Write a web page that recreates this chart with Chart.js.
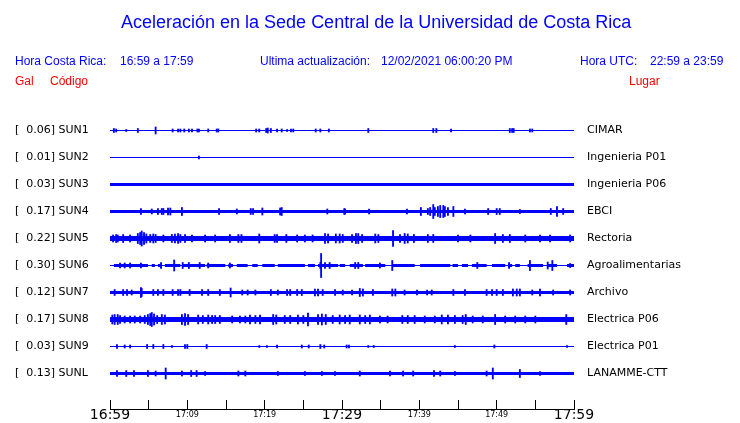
<!DOCTYPE html>
<html>
<head>
<meta charset="utf-8">
<script src="https://cdn.jsdelivr.net/npm/chart.js@4.4.1/dist/chart.umd.min.js"></script>
<style>
    body { margin: 0; background: #fff; }
    #wrap { position: relative; width: 740px; height: 423px; overflow: hidden; }
    #chart { position: absolute; left: 0; top: 0; }
    .txt { position: absolute; font-family: "Liberation Sans", Arial, sans-serif; font-size: 12px; line-height: 1; color: #0000ff; white-space: pre; }
    .red { color: #ff0000; }
</style>
</head>
<body>
<div id="wrap">
    <canvas id="chart" width="740" height="423"></canvas>
    <div class="txt" style="left:121px; top:13px; font-size:18px;">Aceleración en la Sede Central de la Universidad de Costa Rica</div>
    <div class="txt" style="left:15px; top:55px;">Hora Costa Rica:</div>
    <div class="txt" style="left:120px; top:55px;">16:59 a 17:59</div>
    <div class="txt" style="left:260px; top:55px;">Ultima actualización:</div>
    <div class="txt" style="left:381px; top:55px;">12/02/2021 06:00:20 PM</div>
    <div class="txt" style="left:580px; top:55px;">Hora UTC:</div>
    <div class="txt" style="left:650px; top:55px;">22:59 a 23:59</div>
    <div class="txt red" style="left:15px; top:75px;">Gal</div>
    <div class="txt red" style="left:50px; top:75px;">Código</div>
    <div class="txt red" style="left:629px; top:75px;">Lugar</div>
</div>
<script>
// Stations, top to bottom
const codes = ['SUN1', 'SUN2', 'SUN3', 'SUN4', 'SUN5', 'SUN6', 'SUN7', 'SUN8', 'SUN9', 'SUNL'];
const peakGal = [0.06, 0.01, 0.03, 0.17, 0.22, 0.30, 0.12, 0.17, 0.03, 0.13];
const places = ['CIMAR', 'Ingenieria P01', 'Ingenieria P06', 'EBCI', 'Rectoria', 'Agroalimentarias',
                'Archivo', 'Electrica P06', 'Electrica P01', 'LANAMME-CTT'];

// time axis: minutes after 16:59, ticks every 5 min
const timeLabels = ['16:59', '', '17:09', '', '17:19', '', '17:29', '', '17:39', '', '17:49', '', '17:59'];
const bigTimeTicks = [0, 30, 60];

// half width of the continuous noise band of each trace
const bandHalf = [0.5, 0.5, 1.5, 1.5, 2.5, 1.5, 1.5, 2.5, 0.5, 1.5];

// SUN6 band is broken up: [start, end] in minutes
const sun6Segments = [
    [0.5, 4.9], [5.4, 5.8], [6.2, 6.7], [7.1, 9.1], [9.4, 12.3], [12.5, 14.9], [15.3, 15.9],
    [16.4, 17.8], [18.4, 19.1], [19.7, 21.3], [21.7, 25.2], [25.6, 26.5], [26.9, 29.5],
    [29.7, 30.4], [31.0, 32.7], [33.0, 35.6], [36.5, 39.4], [40.1, 44.0], [44.3, 45.0],
    [45.5, 46.3], [46.8, 48.7], [49.4, 51.1], [51.5, 52.0], [52.4, 53.0], [54.0, 56.0],
    [56.6, 57.8], [59.1, 60]
];

// spikes: [minute, half amplitude]
const spikesSUN1 = [[0.5, 2], [0.8, 1.5], [2.1, 1], [3.6, 2], [5.9, 3.5], [8.1, 1.5], [8.8, 1.5], [9.1, 1.5],
    [9.6, 1.5], [10.2, 1.5], [10.6, 1.5], [11.3, 1.5], [11.5, 1.5], [12.7, 1.5], [13.8, 1.5], [14.0, 1.5],
    [18.9, 1.5], [19.3, 1.5], [20.2, 2], [20.4, 2.5], [20.8, 2], [21.6, 1.5], [22.2, 1.5], [22.9, 1],
    [23.4, 1.5], [23.7, 1.5], [26.6, 1.5], [27.2, 1.5], [28.3, 1.5], [33.4, 2], [41.8, 2], [42.2, 2],
    [44.1, 1.5], [51.7, 2], [52.0, 2], [52.2, 2], [54.3, 1.5], [54.6, 1.5]];
const spikesSUN2 = [[11.5, 1.5]];
const spikesSUN3 = [];
const spikesSUN4 = [[4.0, 3], [5.4, 2.5], [6.2, 3], [6.7, 3], [6.9, 3], [7.5, 3.5], [7.8, 3.5], [9.3, 4],
    [14.1, 3], [16.4, 2.5], [18.2, 3], [18.5, 3], [19.7, 3.5], [22.0, 3.5], [22.2, 4], [28.1, 2.5],
    [30.3, 3], [30.4, 2.5], [33.5, 2.5], [38.4, 2.5], [40.2, 4], [41.1, 3], [41.4, 4], [41.8, 7],
    [42.0, 4], [42.4, 5], [42.7, 6], [43.1, 6], [43.3, 5], [43.7, 4], [44.4, 5], [45.9, 2.5], [48.9, 3],
    [50.0, 3], [50.4, 3], [53.0, 2], [57.0, 3], [57.8, 5], [58.6, 3]];
const spikesSUN5 = [[0.4, 3.5], [0.8, 4], [1.0, 3.5], [1.7, 4], [2.6, 3.5], [3.6, 5], [3.9, 6], [4.1, 7.5],
    [4.4, 6], [4.7, 4.5], [5.2, 4], [5.6, 4.5], [5.9, 4], [6.9, 3.5], [8.0, 4], [8.4, 4.5], [8.8, 5],
    [9.1, 4], [9.7, 4], [10.6, 3.5], [12.3, 3.5], [13.6, 3.5], [15.5, 4], [16.6, 4], [17.0, 4],
    [19.3, 4.5], [21.3, 4], [21.6, 4], [22.8, 4], [24.2, 3.5], [25.2, 3.5], [26.2, 3.5], [27.8, 5],
    [28.2, 4.5], [29.2, 4.5], [29.7, 4.5], [30.1, 4], [31.3, 4], [31.8, 5], [32.1, 5], [32.6, 4],
    [34.3, 4.5], [34.7, 4], [36.6, 8], [37.5, 4], [38.1, 5], [38.5, 4.5], [39.3, 4], [41.1, 4],
    [41.8, 4], [45.0, 3.5], [46.6, 3.5], [49.8, 5], [50.8, 4], [51.7, 4], [53.7, 3.5], [55.6, 3.5],
    [56.9, 3.5], [59.5, 3.5]];
const spikesSUN6 = [[1.3, 2.5], [1.9, 2.5], [2.6, 2.5], [4.0, 2.5], [6.6, 3], [8.3, 5.5], [9.4, 3],
    [10.2, 3], [11.6, 3], [12.7, 2.5], [15.5, 2.5], [27.2, 3], [27.3, 12], [27.8, 3], [28.4, 3],
    [31.7, 3], [32.1, 3], [34.9, 2.5], [36.5, 5], [47.5, 3], [51.6, 3], [54.3, 5], [56.6, 3.5],
    [57.2, 5], [59.5, 2]];
const spikesSUN7 = [[0.6, 3], [1.7, 3], [2.2, 3], [2.8, 2.5], [4.0, 5], [4.1, 4], [5.6, 3], [6.2, 3],
    [6.9, 3], [8.1, 3], [8.8, 3], [9.1, 3], [10.3, 3], [11.9, 3], [12.7, 3], [14.2, 3], [15.6, 4.5],
    [17.1, 2.5], [17.8, 2.5], [18.8, 2.5], [20.8, 3], [21.7, 2.5], [22.9, 3], [23.3, 3], [24.2, 3],
    [24.8, 3], [26.5, 3.5], [26.9, 3.5], [27.5, 3], [29.1, 3], [30.1, 2.5], [31.3, 2.5], [32.3, 4],
    [32.7, 3.5], [34.0, 3], [36.5, 3.5], [36.9, 3.5], [38.1, 2.5], [39.7, 2.5], [41.0, 2.5],
    [41.6, 2.5], [44.4, 3], [45.9, 3], [48.7, 3], [49.4, 3], [50.0, 3], [50.8, 3], [52.1, 3.5],
    [52.6, 3.5], [53.0, 3.5], [54.6, 2.5], [55.6, 3.5], [57.3, 2.5], [59.5, 2.5]];
const spikesSUN8 = [[0.3, 4.5], [0.6, 5], [1.0, 5], [1.3, 4], [1.9, 3.5], [2.6, 3.5], [3.2, 3.5],
    [3.9, 3.5], [4.5, 4], [4.9, 5], [5.2, 6], [5.4, 7], [5.7, 5.5], [6.1, 4], [6.7, 5], [7.1, 4.5],
    [9.3, 5], [9.7, 6], [10.1, 5], [11.4, 4.5], [12.0, 4], [12.7, 4.5], [13.2, 4], [13.6, 4], [14.2, 4],
    [15.8, 3.5], [16.8, 3.5], [17.5, 3.5], [18.1, 4.5], [18.8, 4], [19.4, 4.5], [21.1, 5], [21.5, 4.5],
    [22.6, 4], [23.3, 4], [24.3, 4.5], [25.0, 4], [25.6, 6.5], [26.9, 5], [27.4, 5.5], [27.9, 5],
    [28.8, 4], [29.7, 4.5], [30.4, 4], [31.0, 4.5], [32.3, 4.5], [33.0, 4], [33.6, 4.5], [34.9, 3.5],
    [35.9, 3.5], [37.8, 4], [38.5, 4], [39.4, 4], [40.7, 3.5], [42.0, 3.5], [42.9, 4.5], [43.7, 4.5],
    [44.6, 4], [45.6, 4], [46.0, 5], [46.9, 3.5], [48.2, 3.5], [49.8, 5], [51.1, 3.5], [52.4, 3.5],
    [53.7, 3.5], [55.0, 3.5], [59.0, 5]];
const spikesSUN9 = [[0.9, 2], [1.9, 1.5], [2.6, 1.5], [4.8, 2], [5.6, 2], [6.9, 2], [8.0, 1], [9.7, 2],
    [10.0, 2], [12.5, 2], [19.3, 1], [20.3, 1], [21.6, 1.5], [24.8, 1.5], [25.7, 1.5], [27.2, 2],
    [27.7, 1.5], [30.6, 1.5], [30.9, 1.5], [33.4, 1], [34.1, 1], [44.6, 1], [49.7, 1.5], [59.1, 1]];
const spikesSUNL = [[0.9, 3], [2.1, 3], [3.1, 3], [4.9, 3], [5.9, 2.5], [7.2, 5.5], [9.3, 2.5], [10.5, 3],
    [11.2, 3], [12.3, 2], [16.6, 2.5], [17.5, 2.5], [21.7, 2], [25.2, 2], [27.4, 2], [29.1, 2],
    [32.3, 2.5], [36.2, 2.5], [37.9, 2.5], [39.2, 2.5], [41.9, 3], [42.7, 2.5], [44.6, 2], [48.7, 2.5],
    [49.5, 5.5], [53.0, 4], [55.6, 2]];

const spikes = [spikesSUN1, spikesSUN2, spikesSUN3, spikesSUN4, spikesSUN5,
                spikesSUN6, spikesSUN7, spikesSUN8, spikesSUN9, spikesSUNL];
const bandSegments = codes.map((c, i) => (i === 5 ? sun6Segments : [[0, 60]]));

const BLUE = 'rgb(0,0,255)';
const ROW = 27; // trace spacing in y units (1 unit = 1 px)

// --- datasets ---
const datasets = [];
codes.forEach((code, i) => {
    const center = ROW * (i + 1);

    // thin baseline
    datasets.push({
        type: 'line',
        data: [{ x: 0, y: center }, { x: 60, y: center }],
        borderColor: BLUE, borderWidth: 1, pointRadius: 0, tension: 0
    });

    // continuous noise band
    if (bandHalf[i] > 0.5) {
        const pts = [];
        bandSegments[i].forEach(([s, e]) => {
            pts.push({ x: s, y: center }, { x: e, y: center }, { x: e, y: null });
        });
        datasets.push({
            type: 'line',
            data: pts,
            borderColor: BLUE, borderWidth: bandHalf[i] * 2, borderCapStyle: 'butt',
            pointRadius: 0, tension: 0, spanGaps: false
        });
    }

    // spikes as floating bars
    datasets.push({
        type: 'bar',
        data: spikes[i].map(([m, a]) => ({ x: m, y: [center - a, center + a] })),
        backgroundColor: BLUE, borderWidth: 0, barThickness: 1.2, grouped: false
    });
});

const rowTicks = scale => { scale.ticks = codes.map((c, i) => ({ value: ROW * (i + 1) })); };
// row labels sit well inside the plot, so they need no extra room above/below it
const sideAxisFit = width => scale => {
    scale.width = width;
    scale.paddingTop = 0;
    scale.paddingBottom = 0;
};

new Chart(document.getElementById('chart'), {
    type: 'line',
    data: { datasets },
    options: {
        responsive: false,
        animation: false,
        events: [],
        layout: { padding: { left: 15, right: 0, top: 103, bottom: 0 } },
        plugins: { legend: { display: false }, tooltip: { enabled: false }, title: { display: false } },
        scales: {
            x: {
                type: 'linear', min: 0, max: 60, offset: false,
                afterFit: s => { s.height = 14; },
                border: { display: true, color: '#000', width: 1 },
                grid: { display: true, drawOnChartArea: false, drawTicks: true, tickLength: -9, color: '#000', offset: false },
                ticks: {
                    stepSize: 5, autoSkip: false, maxRotation: 0, padding: 8.5, color: '#000',
                    callback: (v, i) => timeLabels[i],
                    font: ctx => bigTimeTicks.includes(ctx.tick && ctx.tick.value)
                        ? { family: 'DejaVu Sans', size: 14, lineHeight: 1.0 }
                        : { family: 'DejaVu Sans', size: 8, lineHeight: 1.5 }
                }
            },
            y: {
                type: 'linear', position: 'left', min: -0.5, max: 305.5, reverse: true,
                afterBuildTicks: rowTicks,
                afterFit: sideAxisFit(95),
                grid: { display: false, drawTicks: false }, border: { display: false },
                ticks: {
                    autoSkip: false, crossAlign: 'far', padding: 0, color: '#000',
                    font: { family: 'DejaVu Sans', size: 11 },
                    callback: (v, i) => '[  ' + peakGal[i].toFixed(2) + '] ' + codes[i]
                }
            },
            y2: {
                type: 'linear', position: 'right', min: -0.5, max: 305.5, reverse: true,
                afterBuildTicks: rowTicks,
                afterFit: sideAxisFit(166),
                grid: { display: false, drawTicks: false }, border: { display: false },
                ticks: {
                    autoSkip: false, padding: 13, color: '#000',
                    font: { family: 'DejaVu Sans', size: 11 },
                    callback: (v, i) => places[i]
                }
            }
        }
    }
});
</script>
</body>
</html>
